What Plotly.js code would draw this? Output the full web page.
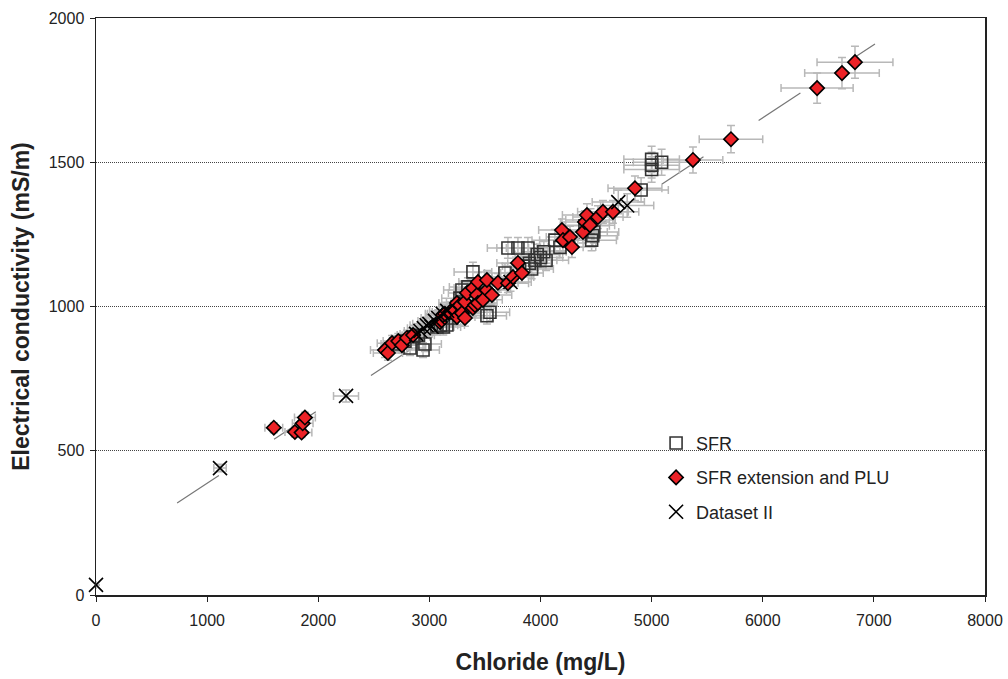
<!DOCTYPE html>
<html>
<head>
<meta charset="utf-8">
<script src="https://cdn.plot.ly/plotly-3.0.1.min.js"></script>
<style>html,body{margin:0;padding:0;background:#fff;}#chart{width:1008px;height:679px;}</style>
</head>
<body>
<div id="chart"></div>
<script>
// SFR (open squares)
const sfrX = [2700,2780,2826,2860,2900,2943,2960,3068,3100,3125,3158,3200,3250,3275,3293,3347,3392,3545,3518,3680,3707,3797,3887,3850,3900,3920,3950,3970,4000,4030,4050,4130,4175,4460,4470,4480,4400,4450,4905,5000,5000,5000,5090];
const sfrY = [870,880,856,895,900,849,870,929,935,929,936,960,1000,1029,1057,1068,1120,980,968,1116,1203,1203,1203,1140,1150,1130,1160,1180,1170,1190,1160,1230,1205,1230,1245,1258,1280,1300,1404,1510,1490,1475,1500];

// SFR extension and PLU (red diamonds)
const extX = [1600,1790,1850,1860,1880,
  2600,2627,2664,2720,2753,2798,2853,
  3095,3122,3140,3185,3230,3248,3248,3275,3293,3320,3320,3338,3392,3392,3410,3428,3437,3437,3482,3518,3518,3563,3617,3707,3752,3797,3833,
  4193,4202,4265,4283,4382,4400,4418,4445,4517,4562,4652,4850,
  5372,5714,6489,6713,6830];
const extY = [580,565,563,595,615,
  849,839,873,880,866,891,901,
  946,971,975,981,988,964,1012,1005,977,960,1016,1047,995,1064,1005,1040,1012,1085,1023,1057,1092,1040,1082,1081,1102,1151,1116,
  1265,1230,1241,1206,1258,1293,1317,1282,1310,1328,1328,1410,
  1508,1580,1757,1809,1847];

// Dataset II (crosses)
const d2X = [0,1116,2250,2880,2920,2950,2975,3000,3020,3050,3080,3120,3160,3730,4700,4780];
const d2Y = [35,440,690,905,915,925,935,940,930,950,960,975,985,1085,1362,1350];

// Fitted line end points
const fitX = [730, 7010];
const fitY = [319, 1910];

const xTicks = [0,1000,2000,3000,4000,5000,6000,7000,8000];
const yTicks = [0,500,1000,1500,2000];

const errX = {type:'percent', value:5, color:'#b8b8b8', thickness:1.5, width:4};
const errY = {type:'percent', value:3, color:'#b8b8b8', thickness:1.5, width:4};

const traces = [
  {x: fitX, y: fitY, mode:'lines', line:{color:'#777', width:1.2, dash:'50px,66px'}, showlegend:false, hoverinfo:'skip'},
  {x: sfrX, y: sfrY, mode:'markers', marker:{size:6, opacity:0}, error_x:errX, error_y:errY, showlegend:false},
  {x: extX, y: extY, mode:'markers', marker:{size:6, opacity:0}, error_x:errX, error_y:errY, showlegend:false},
  {x: d2X, y: d2Y, mode:'markers', marker:{size:6, opacity:0}, error_x:errX, error_y:errY, showlegend:false},
  {x: sfrX, y: sfrY, mode:'markers', name:'SFR', legendgroup:'a', cliponaxis:false,
   marker:{symbol:'square-open', size:12, color:'#333', line:{width:1.6, color:'#333'}}},
  {x: extX, y: extY, mode:'markers', name:'SFR extension and PLU', legendgroup:'b', cliponaxis:false,
   marker:{symbol:'diamond', size:11, color:'#ec2227', line:{width:1.6, color:'#000'}}},
  {x: d2X, y: d2Y, mode:'markers', name:'Dataset II', legendgroup:'c', cliponaxis:false,
   marker:{symbol:'x-thin-open', size:14, color:'#000', line:{width:1.6, color:'#000'}}}
];

const layout = {
  width:1008, height:679,
  margin:{l:96, r:23, t:18, b:84},
  paper_bgcolor:'#fff', plot_bgcolor:'#fff',
  font:{family:'Liberation Sans, Arial, sans-serif', color:'#222'},
  showlegend:true,
  legend:{x:0.63, y:0.295, xanchor:'left', yanchor:'top', bgcolor:'rgba(0,0,0,0)',
    font:{size:18, color:'#222'}, traceorder:'grouped', tracegroupgap:8},
  shapes:[{type:'rect', xref:'paper', yref:'paper', x0:0.63, x1:0.9775, y0:0.11, y1:0.295,
    fillcolor:'#fff', line:{width:0}, layer:'below'}],
  xaxis:{range:[0,8000], tickvals:xTicks, ticktext:xTicks.map(String), ticks:'outside', ticklen:5,
    tickcolor:'#222', showline:true, linecolor:'#222', linewidth:1.5, mirror:true,
    showgrid:false, zeroline:false, tickfont:{size:16, color:'#222'}, ticklabelstandoff:5,
    title:{text:'<b>Chloride (mg/L)</b>', font:{size:23, color:'#222'}, standoff:26}},
  yaxis:{range:[0,2000], tickvals:yTicks, ticktext:yTicks.map(String), ticks:'outside', ticklen:5,
    tickcolor:'#222', showline:true, linecolor:'#222', linewidth:1.5, mirror:true,
    showgrid:true, gridcolor:'#444', griddash:'1px,1px', gridwidth:1, zeroline:false,
    tickfont:{size:16, color:'#222'}, ticklabelstandoff:2,
    title:{text:'<b>Electrical conductivity (mS/m)</b>', font:{size:23, color:'#222'}, standoff:12}}
};

Plotly.newPlot('chart', traces, layout, {staticPlot:true, displayModeBar:false});
</script>
</body>
</html>
